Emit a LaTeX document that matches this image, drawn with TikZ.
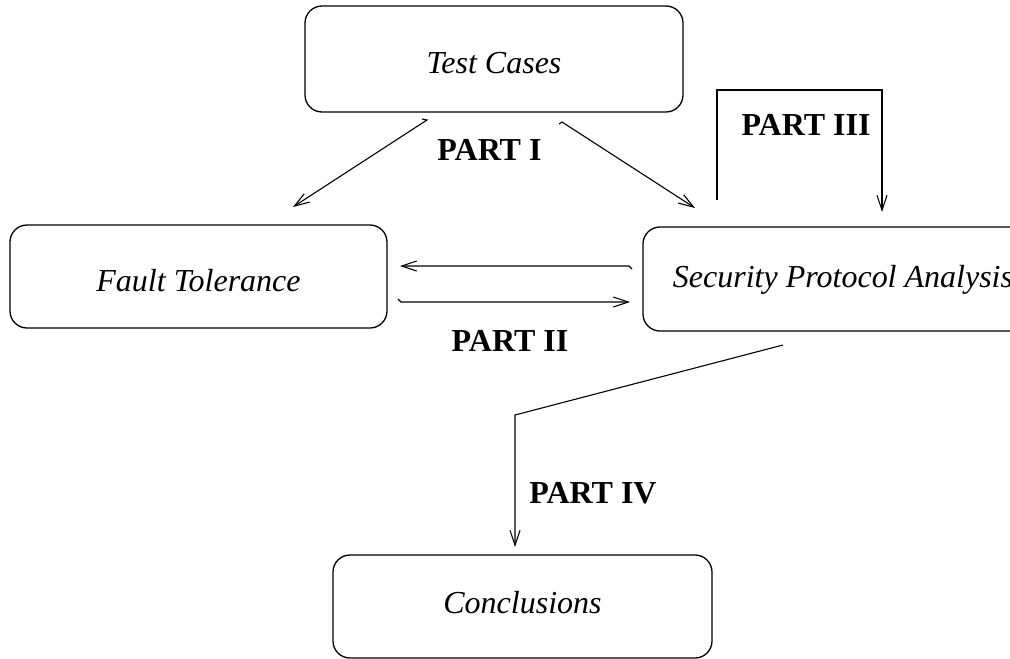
\documentclass[tikz,border=0pt]{standalone}
\usepackage{fontspec}
\setmainfont{Liberation Serif}
\usetikzlibrary{arrows.meta}

\begin{document}
\begin{tikzpicture}[x=1pt,y=-1pt,
  stagebox/.style={draw, line width=1.3pt, rounded corners=17pt,
    font=\fontsize{32}{38}\selectfont\itshape, inner sep=0pt, text depth=0pt},
  partlabel/.style={font=\fontsize{32}{38}\selectfont\bfseries, inner sep=0pt},
  flow/.style={line width=1.1pt, -{Straight Barb[length=15pt,width=10pt,line width=1.1pt]}}]
  \useasboundingbox (0,0) rectangle (1010,659);
  \clip (0,0) rectangle (1010,659);

  % stages
  \node[stagebox, minimum width=378pt, minimum height=106pt, text height=28pt]
    (tc) at (494,59) {Test Cases};
  \node[stagebox, minimum width=377pt, minimum height=103pt, text height=30pt]
    (ft) at (198.5,276.5) {Fault Tolerance};
  \node[stagebox, minimum width=400pt, minimum height=104pt, text height=17pt]
    (spa) at (843,279) {Security Protocol Analysis};
  \node[stagebox, minimum width=379pt, minimum height=103pt, text height=13pt]
    (cc) at (522.5,606.5) {Conclusions};

  % labels
  \node[partlabel] (p1) at (489.5,150) {PART I};
  \node[partlabel] (p2) at (510,341) {PART II};
  \node[partlabel] (p3) at (806,125) {PART III};
  \node[partlabel] (p4) at (593,493) {PART IV};

  % connector end points
  \coordinate (a1s) at (427,120);
  \coordinate (a1h) at (422,119);
  \coordinate (a1e) at (293,207);
  \coordinate (a2s) at (562,122);
  \coordinate (a2h) at (559,124);
  \coordinate (a2e) at (695,208);
  \coordinate (b1h) at (632,269);
  \coordinate (b1s) at (629,266);
  \coordinate (b1e) at (400,266);
  \coordinate (b2h) at (398,299);
  \coordinate (b2s) at (401,302);
  \coordinate (b2e) at (630,302);
  \coordinate (c1s) at (717,200);
  \coordinate (c1a) at (717,90);
  \coordinate (c1b) at (882,90);
  \coordinate (c1e) at (882,212);
  \coordinate (d1s) at (783,345);
  \coordinate (d1a) at (515,415);
  \coordinate (d1e) at (515,547);

  % PART I
  \draw[flow] (a1h) -- (a1s) -- (a1e);
  \draw[flow] (a2h) -- (a2s) -- (a2e);
  % PART II
  \draw[flow] (b1h) -- (b1s) -- (b1e);
  \draw[flow] (b2h) -- (b2s) -- (b2e);
  % PART III
  \draw[flow] (c1s) -- (c1a) -- (c1b) -- (c1e);
  % PART IV
  \draw[flow] (d1s) -- (d1a) -- (d1e);
\end{tikzpicture}
\end{document}
